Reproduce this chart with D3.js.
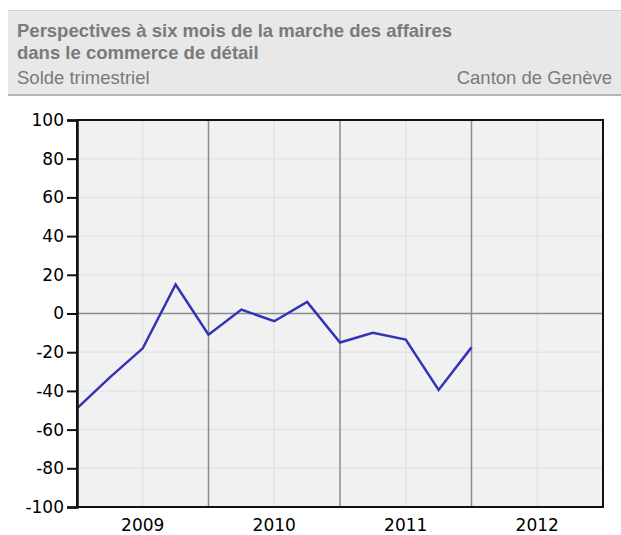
<!DOCTYPE html>
<html lang="fr">
<head>
<meta charset="UTF-8">
<script src="https://d3js.org/d3.v7.min.js"></script>
<style>
html, body { margin: 0; padding: 0; background: #fff; }
svg { display: block; }
</style>
</head>
<body>
<svg id="chart"></svg>
<script>
// data: quarterly balance, quarter index 0 = start of 2009
let quarters = [0, 1, 2, 3, 4, 5, 6, 7, 8, 9, 10, 11, 12]
let solde = [-49, -33, -18, 15, -11, 2, -4, 6, -15, -10, -13.5, -39.5, -17.5]
let years = ['2009', '2010', '2011', '2012']
let yTicks = [-100, -80, -60, -40, -20, 0, 20, 40, 60, 80, 100]

let width = 621
let height = 535
let plotLeft = 77, plotRight = 603, plotTop = 120, plotBottom = 507

let svg = d3.select('#chart').attr('width', width).attr('height', height)

// header
svg.append('rect').attr('x', 8).attr('y', 10).attr('width', width - 8).attr('height', 85)
    .attr('fill', '#e8e8e8')
svg.append('line').attr('x1', 8).attr('x2', width).attr('y1', 10.5).attr('y2', 10.5)
    .attr('stroke', '#d0d0d0')
svg.append('line').attr('x1', 8).attr('x2', width).attr('y1', 95).attr('y2', 95)
    .attr('stroke', '#a0a0a0').attr('stroke-width', 1.5)

let head = svg.append('g').attr('font-family', "'Liberation Sans', Arial, sans-serif").attr('fill', '#7a7a7a')
head.append('text').attr('x', 17).attr('y', 37).attr('font-size', 18.5).attr('font-weight', 'bold')
    .text('Perspectives à six mois de la marche des affaires')
head.append('text').attr('x', 17).attr('y', 59).attr('font-size', 18.5).attr('font-weight', 'bold')
    .text('dans le commerce de détail')
head.append('text').attr('x', 17).attr('y', 84).attr('font-size', 18.5)
    .text('Solde trimestriel')
head.append('text').attr('x', 612).attr('y', 84).attr('font-size', 18.5).attr('text-anchor', 'end')
    .text('Canton de Genève')

let xScale = d3.scaleLinear().domain([0, 16]).range([plotLeft, plotRight])
let yScale = d3.scaleLinear().domain([-100, 100]).range([plotBottom, plotTop])

svg.append('rect').attr('x', plotLeft).attr('y', plotTop)
    .attr('width', plotRight - plotLeft).attr('height', plotBottom - plotTop)
    .attr('fill', '#f1f1f1')

// light grid
svg.append('g').selectAll('line').data(yTicks.filter(d => d != 0 && Math.abs(d) != 100)).join('line')
    .attr('x1', plotLeft).attr('x2', plotRight)
    .attr('y1', d => yScale(d)).attr('y2', d => yScale(d))
    .attr('stroke', '#e4e4e4').attr('stroke-width', 1.5)
svg.append('g').selectAll('line').data(years).join('line')
    .attr('x1', (d, i) => xScale(i * 4 + 2)).attr('x2', (d, i) => xScale(i * 4 + 2))
    .attr('y1', plotTop).attr('y2', plotBottom)
    .attr('stroke', '#e4e4e4').attr('stroke-width', 1.5)

// year separators and zero line
svg.append('g').selectAll('line').data([4, 8, 12]).join('line')
    .attr('x1', d => xScale(d)).attr('x2', d => xScale(d))
    .attr('y1', plotTop).attr('y2', plotBottom)
    .attr('stroke', '#8c8c8c').attr('stroke-width', 1.5)
svg.append('line').attr('x1', plotLeft).attr('x2', plotRight)
    .attr('y1', yScale(0)).attr('y2', yScale(0))
    .attr('stroke', '#8c8c8c').attr('stroke-width', 1.5)

// line
let line = d3.line().x((d, i) => xScale(quarters[i])).y(d => yScale(d))
svg.append('path').datum(solde).attr('d', line)
    .attr('fill', 'none').attr('stroke', '#3333b8').attr('stroke-width', 2.5)
    .attr('stroke-linejoin', 'miter')

// frame
svg.append('rect').attr('x', plotLeft).attr('y', plotTop)
    .attr('width', plotRight - plotLeft).attr('height', plotBottom - plotTop)
    .attr('fill', 'none').attr('stroke', '#111').attr('stroke-width', 2)

// y axis (plain hyphen for negatives, like the original)
let yAxis = d3.axisLeft(yScale).tickValues(yTicks).tickSize(10).tickPadding(3)
    .tickFormat(d => String(d))
let gy = svg.append('g').attr('transform', 'translate(' + plotLeft + ',0)').call(yAxis)
gy.select('.domain').attr('stroke', '#111').attr('stroke-width', 2.5)
gy.selectAll('.tick line').attr('stroke', '#111').attr('stroke-width', 2)
gy.selectAll('text').attr('font-family', "'DejaVu Sans', sans-serif").attr('font-size', 17).attr('fill', '#000')

// year labels
svg.append('g').selectAll('text').data(years).join('text')
    .attr('x', (d, i) => xScale(i * 4 + 2)).attr('y', 531)
    .attr('text-anchor', 'middle')
    .attr('font-family', "'DejaVu Sans', sans-serif").attr('font-size', 17).attr('fill', '#000')
    .text(d => d)
</script>
</body>
</html>
